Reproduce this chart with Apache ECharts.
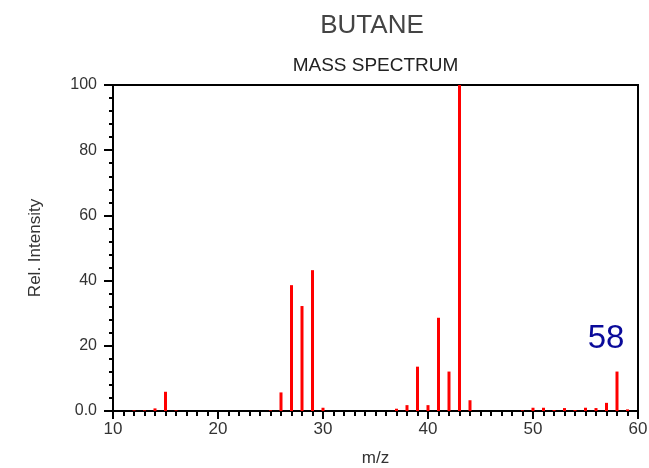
<!DOCTYPE html>
<html><head><meta charset="utf-8">
<script src="https://cdn.jsdelivr.net/npm/echarts@6/dist/echarts.min.js"></script>
<style>html,body{margin:0;padding:0;background:#fff}#c{width:649px;height:468px}</style>
</head><body><div id="c"></div>
<script>
const mz = [12, 13, 14, 15, 16, 25, 26, 27, 28, 29, 30, 37, 38, 39, 40, 41, 42, 43, 44, 49, 50, 51, 52, 53, 54, 55, 56, 57, 58, 59];
const intensity = [0.2, 0.2, 0.8, 5.9, 0.2, 0.2, 5.7, 38.6, 32.2, 43.2, 1.0, 0.7, 1.8, 13.6, 1.8, 28.6, 12.1, 100, 3.3, 0.2, 1.0, 1.0, 0.3, 0.9, 0.3, 1.0, 0.9, 2.5, 12.1, 0.5];
const xTicks = [10, 20, 30, 40, 50, 60];
const yTicks = [0, 20, 40, 60, 80, 100];
const molecularIon = 58;
const FONT = 'Liberation Sans, Arial, sans-serif';

const data = mz.map((m, i) => {
  const d = { value: [m, intensity[i]] };
  if (m === molecularIon) {
    d.label = { show: true, position: 'top', distance: 16, offset: [-11, 0], formatter: String(molecularIon),
      fontSize: 33, color: '#0a0a9a', fontFamily: FONT };
  }
  return d;
});

const chart = echarts.init(document.getElementById('c'));
chart.setOption({
  animation: false,
  graphic: [
    { type: 'text', x: 372, y: 26, style: { text: 'BUTANE', align: 'center', verticalAlign: 'middle',
      fontSize: 26, fontFamily: FONT, fill: '#444' } },
    { type: 'text', x: 375.5, y: 65.5, style: { text: 'MASS SPECTRUM', align: 'center', verticalAlign: 'middle',
      fontSize: 19, fontFamily: FONT, fill: '#222' } }
  ],
  grid: { left: 113, right: 11, top: 85, bottom: 57, outerBoundsMode: 'none', containLabel: false,
    show: true, borderColor: '#000', borderWidth: 2, backgroundColor: 'transparent' },
  xAxis: {
    type: 'value', min: xTicks[0], max: xTicks[xTicks.length - 1], interval: 10,
    name: 'm/z', nameLocation: 'middle', nameGap: 39,
    nameTextStyle: { fontSize: 17, color: '#333', fontFamily: FONT },
    axisLine: { show: true, lineStyle: { color: '#000', width: 2 } },
    axisTick: { show: true, length: 8, lineStyle: { color: '#000', width: 2 } },
    minorTick: { show: true, splitNumber: 10, length: 5, lineStyle: { color: '#000', width: 2 } },
    splitLine: { show: false },
    axisLabel: { fontSize: 17, color: '#333', margin: 10, fontFamily: FONT }
  },
  yAxis: {
    type: 'value', min: yTicks[0], max: yTicks[yTicks.length - 1], interval: 20,
    name: 'Rel. Intensity', nameLocation: 'middle', nameGap: 69, nameRotate: 90,
    nameTextStyle: { fontSize: 17, color: '#333', fontFamily: FONT },
    axisLine: { show: true, lineStyle: { color: '#000', width: 2 } },
    axisTick: { show: true, length: 9, lineStyle: { color: '#000', width: 2 } },
    minorTick: { show: true, splitNumber: 5, length: 4, lineStyle: { color: '#000', width: 2 } },
    splitLine: { show: false },
    axisLabel: { fontSize: 16, color: '#333', margin: 16, fontFamily: FONT,
      formatter: v => v === 0 ? '0.0' : String(v) }
  },
  series: [{
    type: 'bar', data: data, barWidth: 3, itemStyle: { color: '#ff0000' }, clip: false
  }]
});
</script></body></html>
